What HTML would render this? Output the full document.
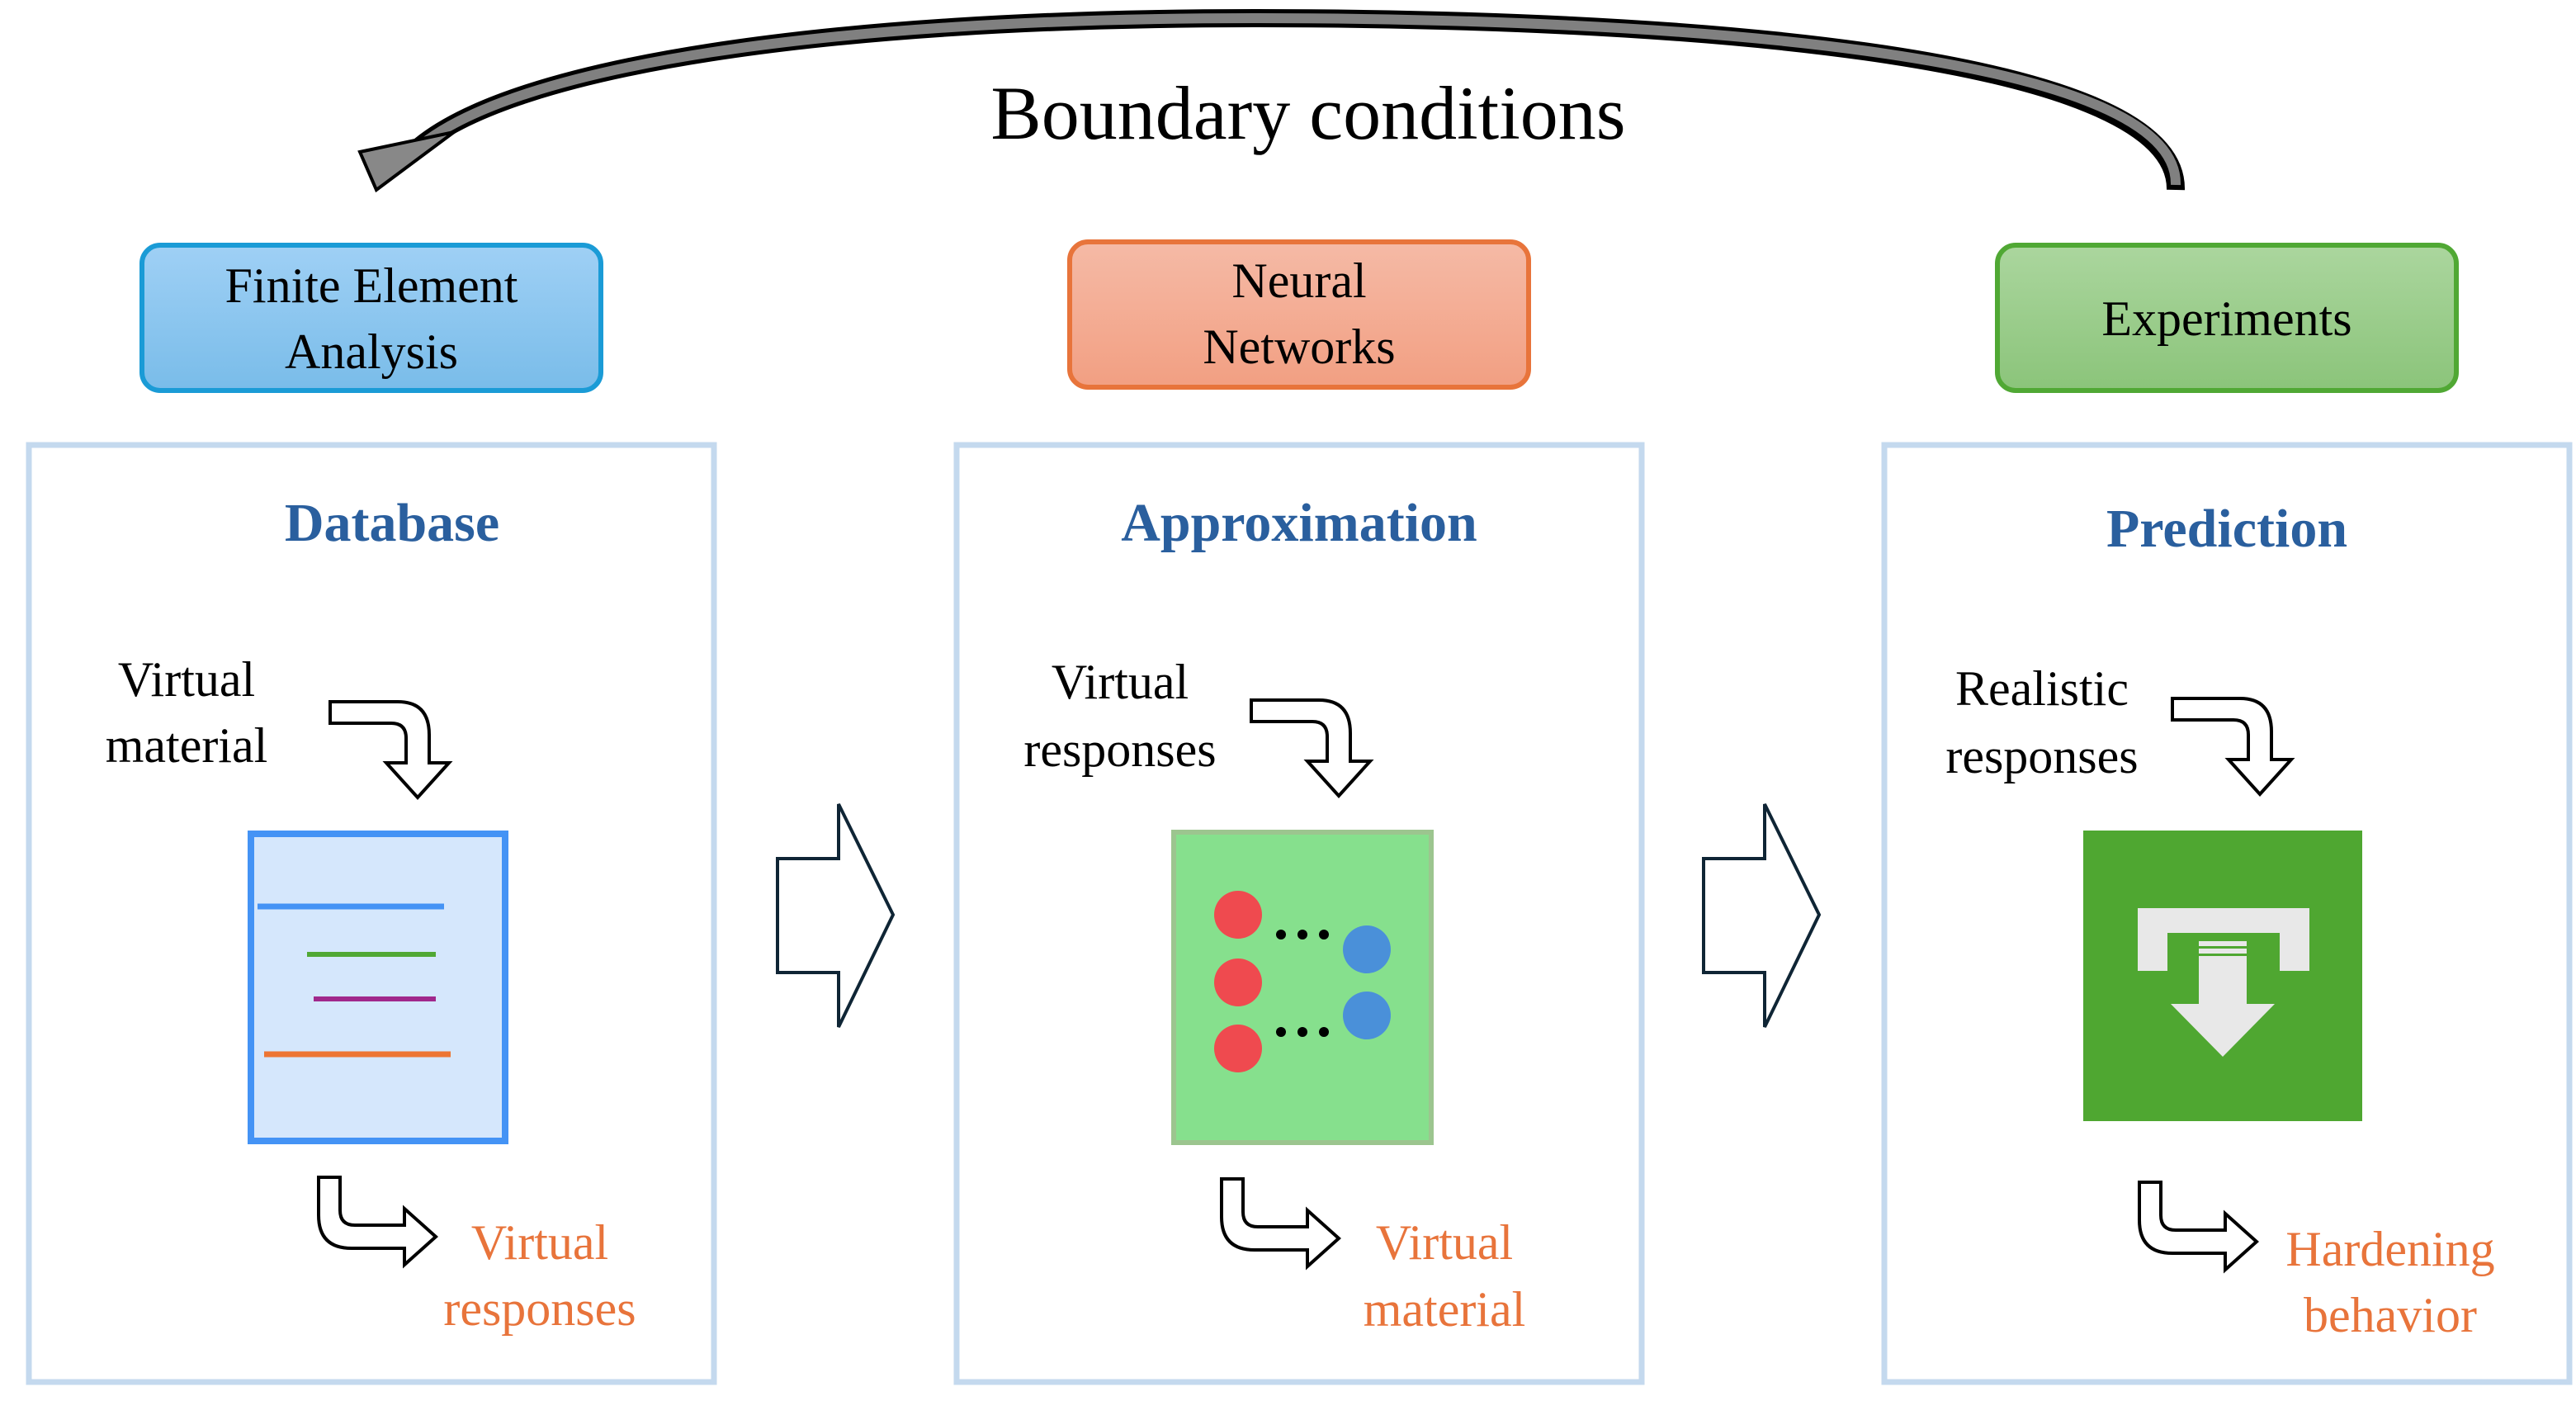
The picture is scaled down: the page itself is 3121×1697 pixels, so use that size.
<!DOCTYPE html>
<html><head><meta charset="utf-8"><style>
body{margin:0;background:#fff}
svg{display:block}
text{font-family:"Liberation Serif","DejaVu Serif",serif}
</style></head><body>
<svg width="3121" height="1697" viewBox="0 0 3121 1697" xmlns="http://www.w3.org/2000/svg" font-family="'Liberation Serif', 'DejaVu Serif', serif">
<defs>
<linearGradient id="gb" x1="0" y1="0" x2="0" y2="1"><stop offset="0" stop-color="#9fd0f5"/><stop offset="1" stop-color="#79bce9"/></linearGradient>
<linearGradient id="go" x1="0" y1="0" x2="0" y2="1"><stop offset="0" stop-color="#f5baa6"/><stop offset="1" stop-color="#f29f82"/></linearGradient>
<linearGradient id="gg" x1="0" y1="0" x2="0" y2="1"><stop offset="0" stop-color="#abd69e"/><stop offset="1" stop-color="#8bc47a"/></linearGradient>
<path id="bd" d="M0,0 H82 Q120,0 120,40 V74 H144 L106,116 L68,74 H92 V44 Q92,26 74,26 H0 Z" fill="#fff" stroke="#000" stroke-width="4"/>
<path id="br" d="M0,0 H26 V40 Q26,58 44,58 H104 V38 L142,72 L104,106 V86 H40 Q0,86 0,46 Z" fill="#fff" stroke="#000" stroke-width="4"/>
<path id="big" d="M0,66 H74 V0 L140,134 L74,270 V204 H0 Z" fill="#fff" stroke="#0f2535" stroke-width="4"/>
</defs>

<!-- arc arrow -->
<path d="M2636,230 C2640,60 2000,22 1520,22 C1000,22 620,80 505,180" fill="none" stroke="#000" stroke-width="22"/>
<path d="M2636,224 C2640,60 2000,22 1520,22 C1000,22 620,80 505,180" fill="none" stroke="#808080" stroke-width="12"/>
<polygon points="456,230 436,184 550,160" fill="#888" stroke="#000" stroke-width="4"/>
<text x="1585" y="168" font-size="92" text-anchor="middle">Boundary conditions</text>

<!-- top boxes -->
<rect x="172" y="297" width="556" height="176" rx="22" fill="url(#gb)" stroke="#1a9bd6" stroke-width="6"/>
<text x="450" y="366" font-size="60" text-anchor="middle">Finite Element</text>
<text x="450" y="446" font-size="60" text-anchor="middle">Analysis</text>
<rect x="1296" y="293" width="556" height="176" rx="22" fill="url(#go)" stroke="#e8743b" stroke-width="6"/>
<text x="1574" y="360" font-size="60" text-anchor="middle">Neural</text>
<text x="1574" y="440" font-size="60" text-anchor="middle">Networks</text>
<rect x="2420" y="297" width="556" height="176" rx="22" fill="url(#gg)" stroke="#50a834" stroke-width="6"/>
<text x="2698" y="406" font-size="60" text-anchor="middle">Experiments</text>

<!-- panels -->
<rect x="35" y="539" width="830" height="1135" fill="#fff" stroke="#c4d9ee" stroke-width="7"/>
<rect x="1159" y="539" width="830" height="1135" fill="#fff" stroke="#c4d9ee" stroke-width="7"/>
<rect x="2283" y="539" width="830" height="1135" fill="#fff" stroke="#c4d9ee" stroke-width="7"/>

<text x="475" y="655" font-size="66" font-weight="bold" fill="#2a5f9e" text-anchor="middle">Database</text>
<text x="1574" y="655" font-size="66" font-weight="bold" fill="#2a5f9e" text-anchor="middle">Approximation</text>
<text x="2698" y="662" font-size="66" font-weight="bold" fill="#2a5f9e" text-anchor="middle">Prediction</text>

<!-- panel 1 -->
<text x="226" y="843" font-size="60" text-anchor="middle">Virtual</text>
<text x="226" y="923" font-size="60" text-anchor="middle">material</text>
<use href="#bd" x="400" y="850"/>
<rect x="304" y="1010" width="308" height="372" fill="#d5e7fc" stroke="#4493f5" stroke-width="8"/>
<line x1="312" y1="1098" x2="538" y2="1098" stroke="#4493f5" stroke-width="7"/>
<line x1="372" y1="1156" x2="528" y2="1156" stroke="#50a834" stroke-width="6"/>
<line x1="380" y1="1210" x2="528" y2="1210" stroke="#a0288c" stroke-width="6"/>
<line x1="320" y1="1277" x2="546" y2="1277" stroke="#ed7533" stroke-width="7"/>
<use href="#br" x="386" y="1426"/>
<text x="654" y="1525" font-size="60" fill="#e8743b" text-anchor="middle">Virtual</text>
<text x="654" y="1605" font-size="60" fill="#e8743b" text-anchor="middle">responses</text>

<use href="#big" x="942" y="974"/>
<use href="#big" x="2064" y="974"/>

<!-- panel 2 -->
<text x="1357" y="846" font-size="60" text-anchor="middle">Virtual</text>
<text x="1357" y="928" font-size="60" text-anchor="middle">responses</text>
<use href="#bd" x="1516" y="848"/>
<rect x="1422" y="1008" width="312" height="376" fill="#86e08d" stroke="#9cc58f" stroke-width="6"/>
<circle cx="1500" cy="1108" r="29" fill="#ef4a4f"/>
<circle cx="1500" cy="1190" r="29" fill="#ef4a4f"/>
<circle cx="1500" cy="1270" r="29" fill="#ef4a4f"/>
<circle cx="1656" cy="1150" r="29" fill="#4a90d9"/>
<circle cx="1656" cy="1230" r="29" fill="#4a90d9"/>
<g fill="#000"><circle cx="1552" cy="1132" r="6"/><circle cx="1578" cy="1132" r="6"/><circle cx="1604" cy="1132" r="6"/>
<circle cx="1552" cy="1250" r="6"/><circle cx="1578" cy="1250" r="6"/><circle cx="1604" cy="1250" r="6"/></g>
<use href="#br" x="1480" y="1428"/>
<text x="1750" y="1525" font-size="60" fill="#e8743b" text-anchor="middle">Virtual</text>
<text x="1750" y="1606" font-size="60" fill="#e8743b" text-anchor="middle">material</text>

<!-- panel 3 -->
<text x="2474" y="854" font-size="60" text-anchor="middle">Realistic</text>
<text x="2474" y="936" font-size="60" text-anchor="middle">responses</text>
<use href="#bd" x="2632" y="846"/>
<rect x="2524" y="1006" width="338" height="352" fill="#4fa731"/>
<path d="M2590,1100 H2798 V1176 H2762 V1130 H2626 V1176 H2590 Z" fill="#e8e8e8"/>
<rect x="2664" y="1140" width="58" height="76" fill="#e8e8e8"/>
<rect x="2664" y="1146" width="58" height="3" fill="#4fa731"/>
<rect x="2664" y="1155" width="58" height="3" fill="#4fa731"/>
<polygon points="2630,1216 2756,1216 2693,1280" fill="#e8e8e8"/>
<use href="#br" x="2592" y="1432"/>
<text x="2896" y="1533" font-size="60" fill="#e8743b" text-anchor="middle">Hardening</text>
<text x="2896" y="1613" font-size="60" fill="#e8743b" text-anchor="middle">behavior</text>
</svg>
</body></html>
